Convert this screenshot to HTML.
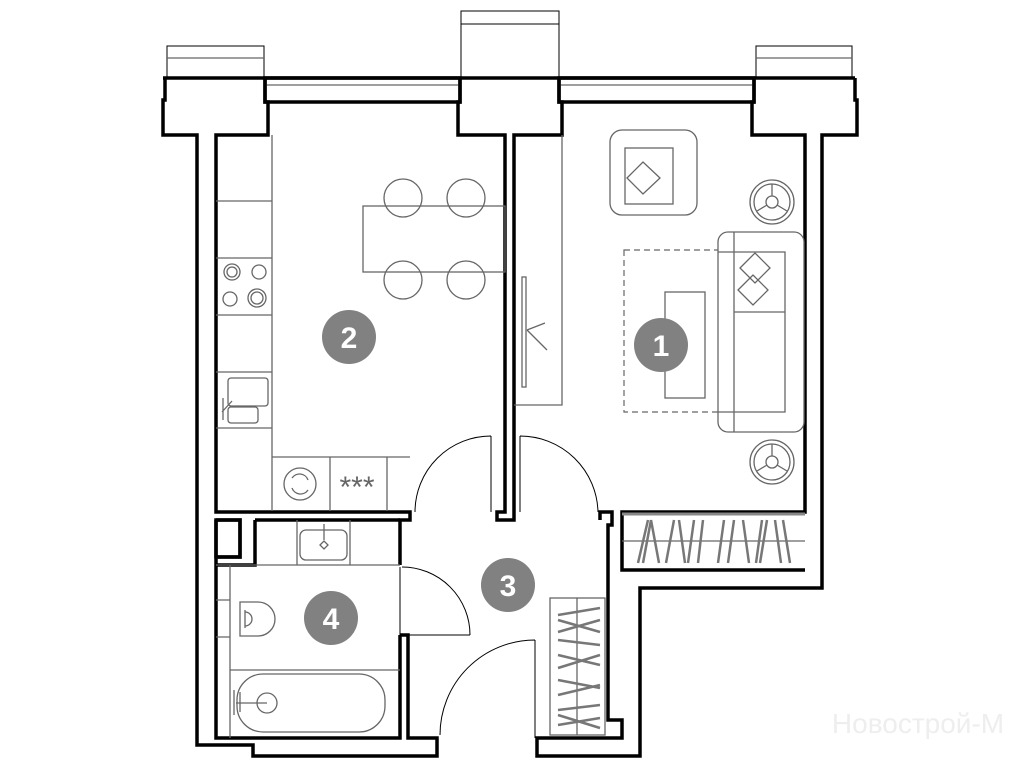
<!DOCTYPE html>
<html><head><meta charset="utf-8"><style>
html,body{margin:0;padding:0;background:#fff;}
svg{display:block;}
.w{fill:none;stroke:#000;stroke-width:3.5;stroke-linejoin:miter;}
.t{fill:none;stroke:#666;stroke-width:1.3;}
.tk{fill:none;stroke:#000;stroke-width:1;}
.g{fill:none;stroke:#777;stroke-width:2.5;}
.n{fill:#818181;}
.nt{fill:#fff;font-family:"Liberation Sans",sans-serif;font-weight:bold;font-size:30px;text-anchor:middle;}
</style></head><body>
<svg width="1019" height="768" viewBox="0 0 1019 768" xmlns="http://www.w3.org/2000/svg">
<!-- windows above -->
<rect x="167" y="46" width="97" height="32" class="tk"/><line x1="167" y1="58" x2="264" y2="58" class="t"/>
<rect x="461" y="11" width="98" height="67" class="tk"/><line x1="461" y1="24" x2="559" y2="24" class="tk"/>
<rect x="756" y="46" width="96" height="32" class="tk"/><line x1="756" y1="58" x2="852" y2="58" class="t"/>
<!-- top sill -->
<line x1="163" y1="78" x2="855" y2="78" class="w"/>
<rect x="265" y="78" width="195" height="24" class="w"/><line x1="265" y1="85" x2="460" y2="85" class="t"/>
<rect x="559" y="78" width="195" height="24" class="w"/><line x1="559" y1="85" x2="754" y2="85" class="t"/>
<!-- left pier & wall -->
<path class="w" d="M165,78 L165,100 L163,100 L163,135 L197,135 L197,745 L253,745 L253,756 L437,756 L437,738 L408,738 L408,635 L400,635"/>
<path class="w" d="M265,78 L265,102 L268,102 L268,135 L216,135 L216,512 L410,512 L410,520 L400,520 L400,565"/>
<!-- middle pier -->
<path class="w" d="M460,78 L460,102 L458,102 L458,135 L505,135 L505,512 L497,512 L497,520 L514,520 L514,135 L562,135 L562,102 L559,102 L559,78"/>
<!-- right pier & wall -->
<path class="w" d="M754,78 L754,102 L752,102 L752,135 L805,135 L805,512 L622,512 L622,570 L805,570"/>
<path class="w" d="M855,78 L855,100 L857,100 L857,135 L822,135 L822,588 L640,588 L640,756 L537,756 L537,738 L622,738 L622,720 L608,720 L608,525 L612,525 L612,512 L600,512 L600,520"/>
<!-- bath walls -->
<path class="w" d="M216,520 L216,738 L400,738 L400,635"/>
<path class="w" d="M216,520 L240,520 L240,557 L216,557"/>
<path class="w" d="M255,520 L400,520"/>
<path class="w" d="M255,520 L255,565 L216,565"/>
<rect x="216" y="520" width="24" height="37" class="w"/>
<!-- kitchen counter -->
<path class="t" d="M272,135 L272,457 L410,457 M216,201 L272,201 M216,258 L272,258 M216,315 L272,315 M216,372 L272,372 M216,428 L272,428 M272,457 L272,511 M330,457 L330,511 M387,457 L387,511"/>
<circle cx="232" cy="272" r="8" class="t"/><circle cx="232" cy="272" r="5" class="t"/><circle cx="259" cy="272" r="7" class="t"/>
<circle cx="230" cy="299" r="7" class="t"/><circle cx="257" cy="298" r="9" class="t"/><circle cx="257" cy="298" r="6" class="t"/>
<rect x="228" y="378" width="40" height="28" rx="3" class="t"/><rect x="228" y="407" width="30" height="16" rx="3" class="t"/>
<path class="t" d="M222,412 L232,401 M223,398 L223,420"/>
<circle cx="300" cy="484" r="16" class="t"/><path class="t" d="M292,478 A9,9 0 0 1 308,480 M308,490 A9,9 0 0 1 292,488"/>
<text x="357" y="497" font-family="Liberation Sans,sans-serif" font-size="30" fill="#666" text-anchor="middle">***</text>
<!-- table & chairs -->
<rect x="363" y="206" width="142" height="66" class="t"/>
<g class="t"><circle cx="403" cy="198" r="19"/><circle cx="466" cy="198" r="19"/><circle cx="403" cy="280" r="19"/><circle cx="466" cy="280" r="19"/></g>
<!-- tv unit -->
<path class="t" d="M514,405 L562,405 L562,135"/>
<rect x="522" y="277" width="4" height="110" class="t"/><path class="t" d="M527,330 L547,350 M527,330 L545,323"/>
<!-- doors -->
<path class="tk" d="M491,436 L491,512 M491,436 A76,76 0 0 0 415,512"/>
<path class="tk" d="M520,436 L520,512 M520,436 A78,78 0 0 1 598,512"/>
<path class="tk" d="M400,567 L400,635 L470,635 M402,567 A68,68 0 0 1 470,635"/>
<path class="tk" d="M535,640 L535,738 M535,640 A95,95 0 0 0 440,735"/>
<!-- living room furniture -->
<rect x="610" y="130" width="87" height="85" rx="12" class="t"/><rect x="625" y="148" width="48" height="56" class="t"/>
<path class="t" d="M627,178 L643,162 L660,178 L643,194 Z"/>
<circle cx="772" cy="202" r="22" class="t"/><circle cx="772" cy="202" r="18" class="t"/><circle cx="772" cy="202" r="6" class="t"/>
<path class="t" d="M772,196 L772,184 M767,205 L757,211 M777,205 L787,211"/>
<circle cx="772" cy="462" r="22" class="t"/><circle cx="772" cy="462" r="18" class="t"/><circle cx="772" cy="462" r="6" class="t"/>
<path class="t" d="M772,456 L772,444 M767,465 L757,471 M777,465 L787,471"/>
<rect x="624" y="250" width="166" height="162" fill="none" stroke="#666" stroke-width="1.2" stroke-dasharray="6,4"/>
<rect x="718" y="232" width="86" height="200" rx="10" class="t" fill="#fff" style="fill:#fff"/>
<path class="t" d="M718,252 L785,252 L785,412 L718,412 M734,232 L734,432 M734,312 L785,312"/>
<path class="t" d="M740,268 L755,253 L770,268 L755,283 Z M738,290 L753,275 L768,290 L753,305 Z"/>
<rect x="665" y="292" width="40" height="106" class="t"/>
<!-- living wardrobe -->
<line x1="622" y1="514" x2="805" y2="514" stroke="#888" stroke-width="3"/>
<line x1="622" y1="541" x2="805" y2="541" class="t"/>
<path class="g" d="M638,563 L648,520 M643,563 L651,520 M651,520 L659,563 M666,563 L674,520 M679,520 L685,563 M688,563 L694,520 M698,563 L703,520 M718,563 L724,520 M728,563 L734,520 M743,520 L749,563 M756,563 L762,520 M760,563 L767,520 M775,520 L781,563 M783,520 L790,563"/>
<!-- corridor wardrobe -->
<rect x="550" y="598" width="55" height="137" class="t"/><line x1="577" y1="598" x2="577" y2="735" class="t"/>
<path class="g" d="M558,615 L600,608 M558,620 L600,632 M558,632 L600,620 M558,640 L600,645 M558,655 L600,665 M558,668 L600,655 M558,680 L600,688 M558,695 L600,685 M558,710 L600,705 M558,715 L600,728 M558,725 L600,718"/>
<!-- bathroom -->
<path class="t" d="M216,565 L400,565 M297,520 L297,565 M350,520 L350,565 M230,565 L230,738 M216,600 L230,600 M216,637 L230,637 M230,670 L400,670"/>
<rect x="300" y="530" width="47" height="30" rx="6" class="t"/><path class="t" d="M324,524 L324,540 M320,545 L324,541 L328,545 L324,549 Z"/>
<path class="t" d="M240,602 L258,602 A17,17 0 0 1 258,636 L240,636 Z"/><path class="t" d="M245,610 L245,628 M245,612 A6,6 0 0 1 245,626"/>
<rect x="237" y="674" width="148" height="58" rx="26" class="t"/>
<circle cx="267" cy="703" r="10" class="t"/><path class="t" d="M236,703 L267,703 M234,690 L234,715 M240,692 L240,712"/>
<!-- numbers -->
<circle cx="349" cy="337" r="27" class="n"/><text x="349" y="348" class="nt">2</text>
<circle cx="661" cy="345" r="27" class="n"/><text x="661" y="356" class="nt">1</text>
<circle cx="508" cy="585" r="27" class="n"/><text x="508" y="596" class="nt">3</text>
<circle cx="331" cy="618" r="27" class="n"/><text x="331" y="629" class="nt">4</text>
<text x="918" y="733" font-family="Liberation Sans,sans-serif" font-size="28" fill="#eee" text-anchor="middle">Новострой-М</text>
</svg>
</body></html>
